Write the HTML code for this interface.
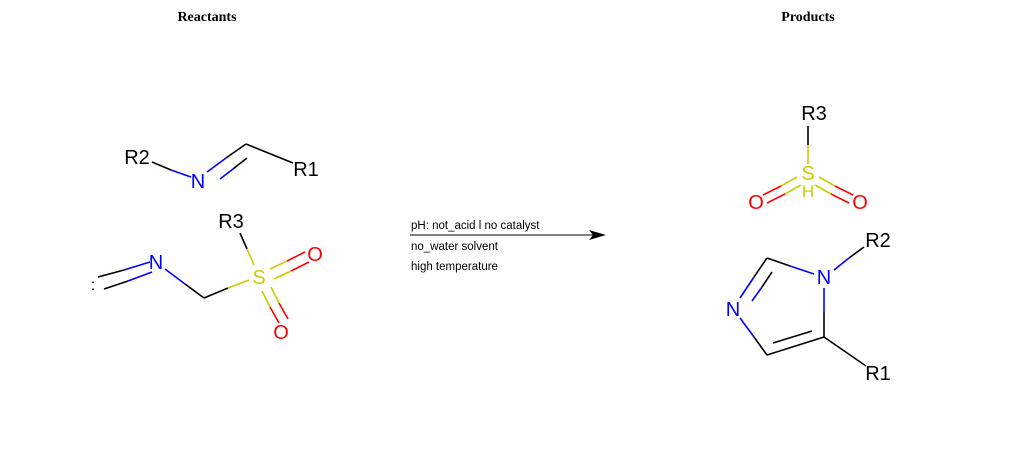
<!DOCTYPE html>
<html><head><meta charset="utf-8"><style>
html,body{margin:0;padding:0;background:#fff;}
svg{display:block}
.t{font-family:"Liberation Sans",sans-serif;font-size:20px;}
.c{font-family:"Liberation Sans",sans-serif;font-size:11.5px;fill:#000}
.h{font-family:"Liberation Serif",serif;font-size:14px;font-weight:bold;fill:#000}
line{stroke-width:1.6;stroke-linecap:butt}
.k{stroke:#000}.b{stroke:#0000ff}.y{stroke:#cccc00}.r{stroke:#ff0000}
</style></head><body>
<svg width="1024" height="450" viewBox="0 0 1024 450" xmlns="http://www.w3.org/2000/svg">
<rect width="1024" height="450" fill="#fff"/>
<text class="h" x="207" y="21" text-anchor="middle">Reactants</text>
<text class="h" x="808" y="21" text-anchor="middle">Products</text>

<g>
<line class="k" x1="152" y1="162" x2="171" y2="170"/><line class="b" x1="171" y1="170" x2="191" y2="177"/>
<line class="b" x1="207" y1="172" x2="226" y2="158"/><line class="k" x1="226" y1="158" x2="246" y2="144"/>
<line class="b" x1="220" y1="179" x2="233" y2="169"/><line class="k" x1="233" y1="169" x2="247" y2="158"/>
<line class="k" x1="246" y1="144" x2="293" y2="163"/>
<text class="t" x="137" y="164" text-anchor="middle" fill="#000">R2</text>
<text class="t" x="198" y="188" text-anchor="middle" fill="#0000ff">N</text>
<text class="t" x="306" y="176" text-anchor="middle" fill="#000">R1</text>
</g>

<g>
<text class="t" x="93" y="290" text-anchor="middle" fill="#000" style="font-size:16px">:</text>
<line class="k" x1="98" y1="277" x2="124" y2="270"/><line class="b" x1="124" y1="270" x2="150" y2="262"/>
<line class="k" x1="104" y1="289" x2="128" y2="281"/><line class="b" x1="128" y1="281" x2="152" y2="272"/>
<text class="t" x="156" y="269" text-anchor="middle" fill="#0000ff">N</text>
<line class="b" x1="165" y1="269" x2="185" y2="284"/><line class="k" x1="185" y1="284" x2="204" y2="298"/>
<line class="k" x1="204" y1="298" x2="228" y2="288"/><line class="y" x1="228" y1="288" x2="249" y2="280"/>
<text class="t" x="259" y="284" text-anchor="middle" fill="#cccc00">S</text>
<text class="t" x="231" y="228" text-anchor="middle" fill="#000">R3</text>
<line class="k" x1="240" y1="233" x2="247" y2="249"/><line class="y" x1="247" y1="249" x2="254" y2="265"/>
<line class="y" x1="270" y1="269" x2="287" y2="261"/><line class="r" x1="287" y1="261" x2="305" y2="252"/>
<line class="y" x1="274" y1="279" x2="291" y2="271"/><line class="r" x1="291" y1="271" x2="309" y2="262"/>
<text class="t" x="315" y="261" text-anchor="middle" fill="#ff0000">O</text>
<line class="y" x1="262" y1="291" x2="270" y2="307"/><line class="r" x1="270" y1="307" x2="279" y2="323"/>
<line class="y" x1="271" y1="287" x2="279" y2="303"/><line class="r" x1="279" y1="303" x2="288" y2="319"/>
<text class="t" x="281" y="339" text-anchor="middle" fill="#ff0000">O</text>
</g>

<g>
<line class="k" x1="410" y1="235" x2="596" y2="235" style="stroke-width:1"/>
<polygon points="606,235 589,230 593,235 589,240" fill="#000"/>
<text class="c" x="411" y="229">pH: not_acid l no catalyst</text>
<text class="c" x="411" y="250">no_water solvent</text>
<text class="c" x="411" y="270">high temperature</text>
</g>

<g>
<text class="t" x="814" y="120" text-anchor="middle" fill="#000">R3</text>
<line class="k" x1="808" y1="126" x2="808" y2="145"/><line class="y" x1="808" y1="145" x2="808" y2="164"/>
<text class="t" x="808" y="180" text-anchor="middle" fill="#cccc00">S</text>
<text class="t" x="808" y="197" text-anchor="middle" fill="#cccc00" style="font-size:17px">H</text>
<line class="y" x1="797" y1="177" x2="781" y2="186"/><line class="r" x1="781" y1="186" x2="763" y2="195"/>
<line class="y" x1="801" y1="185" x2="785" y2="194"/><line class="r" x1="785" y1="194" x2="767" y2="203"/>
<text class="t" x="756" y="209" text-anchor="middle" fill="#ff0000">O</text>
<line class="y" x1="819" y1="177" x2="835" y2="186"/><line class="r" x1="835" y1="186" x2="853" y2="195"/>
<line class="y" x1="815" y1="185" x2="831" y2="194"/><line class="r" x1="831" y1="194" x2="849" y2="203"/>
<text class="t" x="860" y="209" text-anchor="middle" fill="#ff0000">O</text>
</g>

<g>
<text class="t" x="824" y="284" text-anchor="middle" fill="#0000ff">N</text>
<text class="t" x="733" y="316" text-anchor="middle" fill="#0000ff">N</text>
<text class="t" x="878" y="247" text-anchor="middle" fill="#000">R2</text>
<text class="t" x="878" y="380" text-anchor="middle" fill="#000">R1</text>
<line class="k" x1="767" y1="258" x2="790" y2="266"/><line class="b" x1="790" y1="266" x2="814" y2="274"/>
<line class="k" x1="767" y1="258" x2="754" y2="277"/><line class="b" x1="754" y1="277" x2="740" y2="298"/>
<line class="k" x1="772" y1="272" x2="762" y2="287"/><line class="b" x1="762" y1="287" x2="752" y2="301"/>
<line class="b" x1="740" y1="318" x2="754" y2="337"/><line class="k" x1="754" y1="337" x2="767" y2="355"/>
<line class="k" x1="767" y1="355" x2="824" y2="337"/>
<line class="k" x1="773" y1="343" x2="812" y2="331"/>
<line class="k" x1="824" y1="337" x2="824" y2="312"/><line class="b" x1="824" y1="312" x2="824" y2="288"/>
<line class="b" x1="834" y1="270" x2="849" y2="258"/><line class="k" x1="849" y1="258" x2="864" y2="247"/>
<line class="k" x1="824" y1="337" x2="866" y2="366"/>
</g>
</svg>
</body></html>
